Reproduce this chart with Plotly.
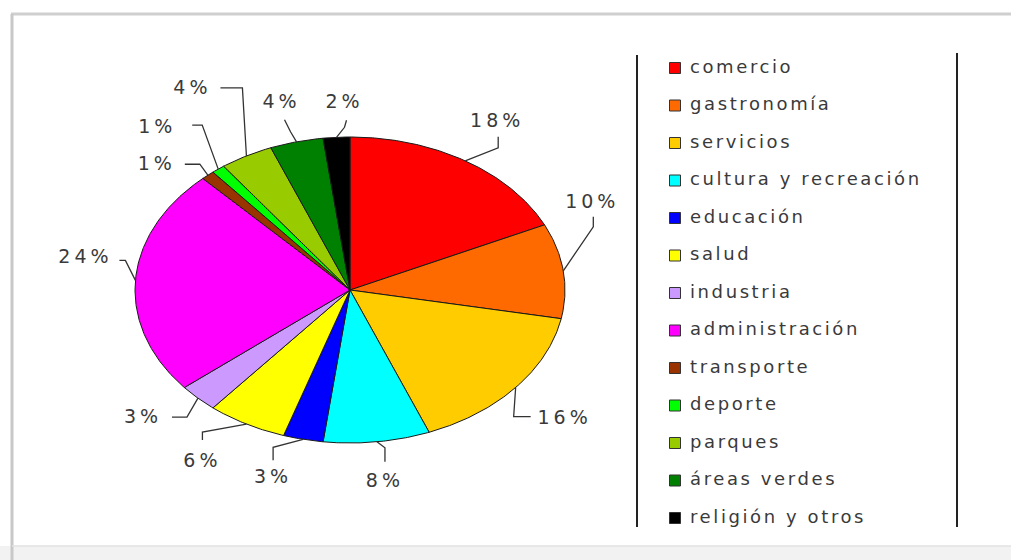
import math
import plotly.graph_objects as go

# Land-use shares (%)
categories = ["comercio", "gastronomía", "servicios", "cultura y recreación", "educación",
              "salud", "industria", "administración", "transporte", "deporte", "parques",
              "áreas verdes", "religión y otros"]
shares = [18, 10, 16, 8, 3, 6, 3, 24, 1, 1, 4, 4, 2]
colors = ["#ff0000", "#ff6a00", "#ffcc00", "#00ffff", "#0000ff", "#ffff00", "#cc99ff",
          "#ff00ff", "#993300", "#00ff00", "#99cc00", "#008000", "#000000"]

# Canvas and pie geometry, in pixels (the axes are mapped 1:1 onto the canvas)
W, H = 1011, 560
CX, CY, RX, RY = 350, 290, 215, 153

# Leader-line routing per slice: elbow, line end and label centre, as pixel offsets
# from the slice's mid point on the rim
leader_elbow = [(33, -13), (30, -44), (-2, 29), (8, 6), (-30, 8), (-44, 8), (-11, 19),
                (-10, -20), (-8, -11), (-16, -44), (-4, -68), (-6, -10), (8, -10)]
leader_end = [(33, -24), (30, -54), (15, 29), (8, 20), (-30, 21), (-44, 16), (-26, 19),
              (-16, -20), (-23, -11), (-26, -44), (-26, -68), (-12, -22), (10, -17)]
label_pos = [(32, -39), (29, -68), (49, 32), (8, 40), (-30, 39), (-44, 38), (-55, 20),
             (-50, -22), (-51, -10), (-61, -41), (-54, -67), (-15, -39), (8, -34)]

LEG_X, LEG_Y0, LEG_DY = 675, 68, 37.5
TEXT_COLOR = "#3a3a3a"


def rim(theta_deg):
    t = math.radians(theta_deg)
    return CX + RX * math.sin(t), CY - RY * math.cos(t)


fig = go.Figure()

total = sum(shares)
start = 0.0
mids = []
for name, val, col in zip(categories, shares, colors):
    a0 = start / total * 360.0
    a1 = (start + val) / total * 360.0
    n = max(4, int((a1 - a0) / 0.5))
    xs, ys = [CX], [CY]
    for k in range(n + 1):
        x, y = rim(a0 + (a1 - a0) * k / n)
        xs.append(x)
        ys.append(y)
    xs.append(CX)
    ys.append(CY)
    fig.add_trace(go.Scatter(x=xs, y=ys, mode="lines", fill="toself", fillcolor=col,
                             line=dict(color="#1a1a1a", width=1), name=name,
                             hoverinfo="name", showlegend=False))
    mids.append((a0 + a1) / 2)
    start += val

# Leader lines
lx, ly = [], []
for m, e, d in zip(mids, leader_elbow, leader_end):
    x0, y0 = rim(m)
    lx += [x0, x0 + e[0], x0 + d[0], None]
    ly += [y0, y0 + e[1], y0 + d[1], None]
fig.add_trace(go.Scatter(x=lx, y=ly, mode="lines", line=dict(color="#333333", width=1.3),
                         hoverinfo="skip", showlegend=False))

# Percentage labels
tx, ty, tt = [], [], []
for m, p, v in zip(mids, label_pos, shares):
    x0, y0 = rim(m)
    tx.append(x0 + p[0])
    ty.append(y0 + p[1])
    tt.append(f"{v}%")
fig.add_trace(go.Scatter(x=tx, y=ty, text=tt, mode="text", textposition="middle center",
                         textfont=dict(family="DejaVu Sans", size=19, color=TEXT_COLOR),
                         hoverinfo="skip", showlegend=False))

# Legend swatches and names
leg_y = [LEG_Y0 + i * LEG_DY for i in range(len(categories))]
fig.add_trace(go.Scatter(x=[LEG_X] * len(categories), y=leg_y, mode="markers",
                         marker=dict(symbol="square", size=11, color=colors,
                                     line=dict(color="#333333", width=1)),
                         hoverinfo="skip", showlegend=False))
fig.add_trace(go.Scatter(x=[LEG_X + 15] * len(categories), y=leg_y, text=categories,
                         mode="text", textposition="middle right",
                         textfont=dict(family="DejaVu Sans", size=18, color=TEXT_COLOR),
                         hoverinfo="skip", showlegend=False))

shapes = [
    # page frame
    dict(type="rect", xref="x", yref="y", x0=0, x1=W, y0=546, y1=H,
         fillcolor="#f2f2f2", line=dict(width=0), layer="below"),
    dict(type="line", xref="x", yref="y", x0=11, x1=W, y0=14, y1=14,
         line=dict(color="#cfcfcf", width=3)),
    dict(type="line", xref="x", yref="y", x0=12, x1=12, y0=14, y1=H,
         line=dict(color="#c8c8c8", width=3)),
    dict(type="line", xref="x", yref="y", x0=12, x1=W, y0=546, y1=546,
         line=dict(color="#e2e2e2", width=1.5)),
    # legend rules
    dict(type="line", xref="x", yref="y", x0=637, x1=637, y0=55, y1=527,
         line=dict(color="#222222", width=2)),
    dict(type="line", xref="x", yref="y", x0=957, x1=957, y0=53, y1=527,
         line=dict(color="#222222", width=2)),
]

fig.update_layout(
    width=W, height=H,
    margin=dict(l=0, r=0, t=0, b=0),
    paper_bgcolor="white", plot_bgcolor="white",
    xaxis=dict(range=[0, W], visible=False, fixedrange=True),
    yaxis=dict(range=[H, 0], visible=False, fixedrange=True),
    shapes=shapes,
    showlegend=False,
)

# Wider tracking on the text, as in the original typeface
spacing_js = """
var gd = document.getElementById('{plot_id}');
gd.querySelectorAll('g.textpoint text').forEach(function (t) {
    var fs = parseFloat(t.style.fontSize);
    t.style.letterSpacing = (fs > 18.5 ? '4px' : '2.6px');
});
"""

fig.write_html("out.html", post_script=spacing_js)
